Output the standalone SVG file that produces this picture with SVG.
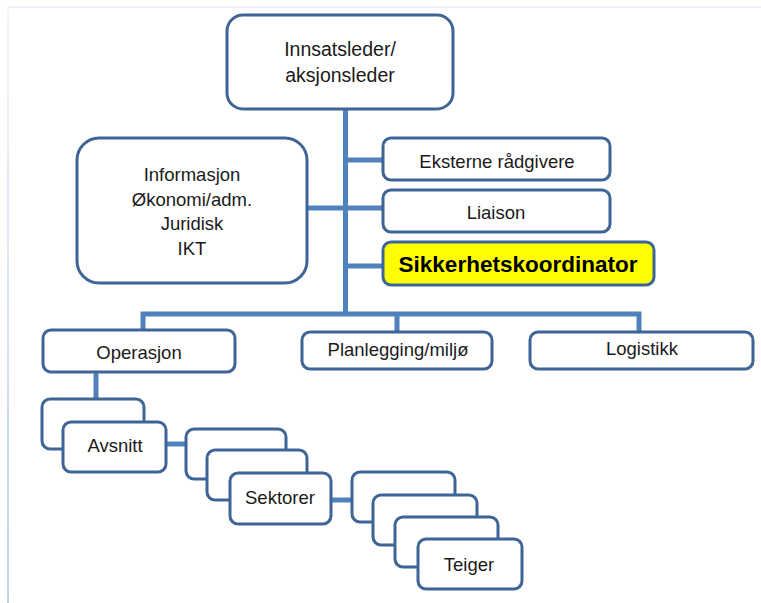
<svg xmlns="http://www.w3.org/2000/svg" width="761" height="603" viewBox="0 0 761 603">
  <defs>
    <linearGradient id="frameFade" x1="0" y1="0" x2="0" y2="1">
      <stop offset="0" stop-color="#f1f5fa"/>
      <stop offset="1" stop-color="#bfd2ea"/>
    </linearGradient>
    <style>
      .box { fill: #ffffff; stroke: #3f6596; stroke-width: 3; }
      .hl { fill: #ffff00; }
      .link { fill: none; stroke: #4f81bd; stroke-width: 5; stroke-linejoin: miter; }
      .lbl { font-family: "Liberation Sans", Arial, sans-serif; font-size: 18.5px; fill: #1a1a1a; text-anchor: middle; }
      .big { font-size: 19.5px; }
      .bold { font-weight: bold; font-size: 22.5px; fill: #000000; }
    </style>
  </defs>

  <!-- page frame -->
  <rect x="0" y="0" width="761" height="603" fill="#ffffff"/>
  <line x1="8" y1="7" x2="761" y2="7" stroke="#eef3f9" stroke-width="2"/>
  <rect x="7" y="7" width="2" height="596" fill="url(#frameFade)"/>

  <!-- connectors -->
  <g id="connectors">
    <line class="link" x1="345.5" y1="108" x2="345.5" y2="316"/>
    <line class="link" x1="345.5" y1="160" x2="384" y2="160"/>
    <line class="link" x1="306" y1="208" x2="384" y2="208"/>
    <line class="link" x1="345.5" y1="266" x2="384" y2="266"/>
    <polyline class="link" points="143,331 143,314 639,314 639,333"/>
    <line class="link" x1="397" y1="314" x2="397" y2="333"/>
    <line class="link" x1="96" y1="371" x2="96" y2="400"/>
    <line class="link" x1="165" y1="444" x2="187" y2="444"/>
    <line class="link" x1="330" y1="500" x2="353" y2="500"/>
  </g>

  <g id="innsatsleder">
    <rect class="box" x="227" y="15" width="226" height="94" rx="16"/>
    <text class="lbl big" x="340" y="56">Innsatsleder/</text>
    <text class="lbl big" x="340" y="82">aksjonsleder</text>
  </g>

  <g id="stab">
    <rect class="box" x="77" y="138" width="230" height="145" rx="22"/>
    <text class="lbl" x="192" y="181">Informasjon</text>
    <text class="lbl" x="192" y="206">Økonomi/adm.</text>
    <text class="lbl" x="192" y="230">Juridisk</text>
    <text class="lbl" x="192" y="255">IKT</text>
  </g>

  <g id="eksterne">
    <rect class="box" x="383" y="138" width="227" height="42" rx="8"/>
    <text class="lbl" x="497" y="168">Eksterne rådgivere</text>
  </g>

  <g id="liaison">
    <rect class="box" x="383" y="190" width="227" height="42" rx="8"/>
    <text class="lbl" x="496" y="219">Liaison</text>
  </g>

  <g id="sikkerhet">
    <rect class="box hl" x="383" y="242" width="271" height="43" rx="8"/>
    <text class="lbl bold" x="518" y="272">Sikkerhetskoordinator</text>
  </g>

  <g id="operasjon">
    <rect class="box" x="43" y="330" width="192" height="42" rx="8"/>
    <text class="lbl" x="139" y="359">Operasjon</text>
  </g>

  <g id="planlegging">
    <rect class="box" x="302" y="332" width="190" height="37" rx="8"/>
    <text class="lbl" x="398" y="356">Planlegging/miljø</text>
  </g>

  <g id="logistikk">
    <rect class="box" x="530" y="332" width="223" height="37" rx="8"/>
    <text class="lbl" x="642" y="355">Logistikk</text>
  </g>

  <!-- stacked cards: several units of the same level -->
  <g id="avsnitt">
    <rect class="box" x="42" y="399" width="102" height="50" rx="8"/>
    <rect class="box" x="63" y="422" width="103" height="50" rx="8"/>
    <text class="lbl" x="115" y="452">Avsnitt</text>
  </g>

  <g id="sektorer">
    <rect class="box" x="186" y="429" width="100" height="50" rx="8"/>
    <rect class="box" x="207" y="450" width="100" height="50" rx="8"/>
    <rect class="box" x="230" y="473" width="101" height="51" rx="8"/>
    <text class="lbl" x="280" y="504">Sektorer</text>
  </g>

  <g id="teiger">
    <rect class="box" x="352" y="472" width="103" height="50" rx="8"/>
    <rect class="box" x="373" y="495" width="104" height="50" rx="8"/>
    <rect class="box" x="395" y="517" width="103" height="50" rx="8"/>
    <rect class="box" x="418" y="539" width="104" height="50" rx="8"/>
    <text class="lbl" x="469" y="571">Teiger</text>
  </g>
</svg>
